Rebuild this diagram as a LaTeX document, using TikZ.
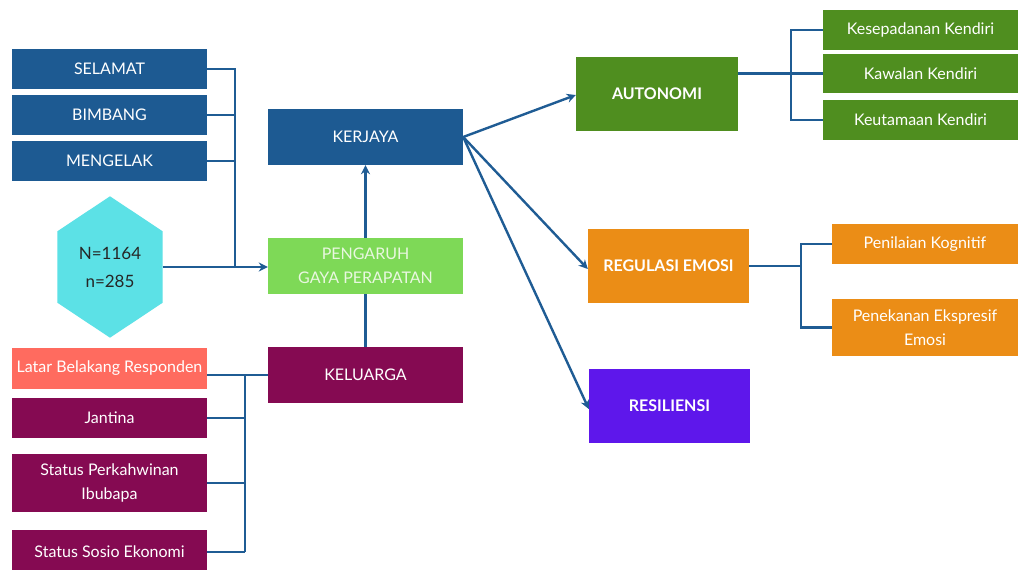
\documentclass[tikz,border=0pt]{standalone}
\usepackage{fontspec}
\setmainfont{Lato}
\usetikzlibrary{arrows.meta,backgrounds,calc}
\definecolor{dblue}{HTML}{1D5A92}
\definecolor{lgreen}{HTML}{7ED957}
\definecolor{maroon}{HTML}{850A52}
\definecolor{salmon}{HTML}{FF6B5F}
\definecolor{dgreen}{HTML}{4F8E1F}
\definecolor{orng}{HTML}{EB8D16}
\definecolor{purp}{HTML}{5E17EB}
\definecolor{cyanh}{HTML}{5CE1E6}
\definecolor{linec}{HTML}{1F5C94}
\definecolor{pgtext}{HTML}{E9F7E0}
\tikzset{
  bx/.style={inner sep=0pt, text=white, align=center, font=\fontsize{16}{24}\selectfont},
  tb/.style={bx, font=\bfseries\fontsize{16}{24}\selectfont},
  conn/.style={draw=linec, line width=2.4pt},
  arr/.style={conn, -{Stealth[length=9pt,width=9pt]}},
}
\begin{document}
\begin{tikzpicture}[x=1pt,y=-1pt]
\useasboundingbox (0,0) rectangle (1018,570);
\begin{scope}[on background layer]
\fill[white] (0,0) rectangle (1018,570);
\end{scope}
% left top boxes
\node[bx, fill=dblue, minimum width=195pt, minimum height=40pt] (sel) at (109.5,69) {SELAMAT};
\node[bx, fill=dblue, minimum width=195pt, minimum height=40pt] (bim) at (109.5,115) {BIMBANG};
\node[bx, fill=dblue, minimum width=195pt, minimum height=40pt] (men) at (109.5,161) {MENGELAK};
% hexagon
\node[bx, text=black!85, font=\fontsize{17}{28}\selectfont, minimum width=105pt, minimum height=141pt] (hex) at (110,267) {N=1164\\n=285};
\begin{scope}[on background layer]
\fill[cyanh] (hex.north) -- ([yshift=-35pt]hex.north east) -- ([yshift=35pt]hex.south east) -- (hex.south) -- ([yshift=35pt]hex.south west) -- ([yshift=-35pt]hex.north west) -- cycle;
\end{scope}
% center column
\node[bx, fill=dblue, minimum width=195pt, minimum height=56pt] (ker) at (365.5,137) {KERJAYA};
\node[bx, fill=lgreen, text=pgtext, minimum width=195pt, minimum height=56pt] (png) at (365.5,266) {PENGARUH\\GAYA PERAPATAN};
\node[bx, fill=maroon, minimum width=195pt, minimum height=56pt] (kel) at (365.5,375) {KELUARGA};
% left bottom boxes
\node[bx, fill=salmon, minimum width=195pt, minimum height=41pt] (lat) at (109.5,368.5) {Latar Belakang Responden};
\node[bx, fill=maroon, minimum width=195pt, minimum height=40pt] (jan) at (109.5,418) {Jantina};
\node[bx, fill=maroon, minimum width=195pt, minimum height=58pt] (spk) at (109.5,483) {Status Perkahwinan\\Ibubapa};
\node[bx, fill=maroon, minimum width=195pt, minimum height=44pt] (sse) at (109.5,552) {Status Sosio Ekonomi};
% right
\node[tb, fill=dgreen, minimum width=162pt, minimum height=74pt] (aut) at (657,94) {AUTONOMI};
\node[bx, fill=dgreen, minimum width=195pt, minimum height=40pt] (kes) at (920.5,30) {Kesepadanan Kendiri};
\node[bx, fill=dgreen, minimum width=195pt, minimum height=39pt] (kaw) at (920.5,73.5) {Kawalan Kendiri};
\node[bx, fill=dgreen, minimum width=195pt, minimum height=40pt] (keu) at (920.5,120) {Keutamaan Kendiri};
\node[tb, fill=orng, minimum width=161pt, minimum height=74pt] (reg) at (668.5,266) {REGULASI EMOSI};
\node[bx, fill=orng, minimum width=186pt, minimum height=40pt] (pen) at (925,244) {Penilaian Kognitif};
\node[bx, fill=orng, minimum width=186pt, minimum height=57pt] (pee) at (925,327.5) {Penekanan Ekspresif\\Emosi};
\node[tb, fill=purp, minimum width=161pt, minimum height=74pt] (res) at (669.5,406) {RESILIENSI};
% coordinates for brackets
\coordinate (b1) at (235,69);
\coordinate (b1b) at (235,267);
\coordinate (b2) at (245,375);
\coordinate (b2b) at (245,552);
\coordinate (b3) at (791,30);
\coordinate (b3b) at (791,120);
\coordinate (b4) at (801,244);
\coordinate (b4b) at (801,327.5);
% connectors left top
\draw[conn] (sel.east) -- (b1) -- (b1b);
\draw[conn] (bim.east) -- (bim.east -| b1);
\draw[conn] (men.east) -- (men.east -| b1);
\draw[arr] (hex.east) -- (hex.east -| png.west);
\draw[arr] (png.north) -- (ker.south);
\draw[conn] (kel.north) -- (png.south);
% connectors left bottom
\draw[conn] (kel.west) -- (kel.west -| lat.east);
\draw[conn] (b2) -- (b2b);
\draw[conn] (jan.east) -- (jan.east -| b2);
\draw[conn] (spk.east) -- (spk.east -| b2);
\draw[conn] (sse.east) -- (sse.east -| b2);
% from KERJAYA
\draw[arr] (ker.east) -- ([yshift=-1pt]aut.west);
\draw[arr] (ker.east) -- ([yshift=-3pt]reg.west);
\draw[arr] (ker.east) -- ([yshift=-3pt]res.west);
% autonomi bracket
\draw[conn] (aut.east |- kaw.west) -- (kaw.west);
\draw[conn] (kes.west) -- (b3) -- (b3b) -- (keu.west);
% regulasi bracket
\draw[conn] (reg.east) -- (reg.east -| b4);
\draw[conn] (pen.west) -- (b4) -- (b4b) -- (pee.west);
\end{tikzpicture}
\end{document}
